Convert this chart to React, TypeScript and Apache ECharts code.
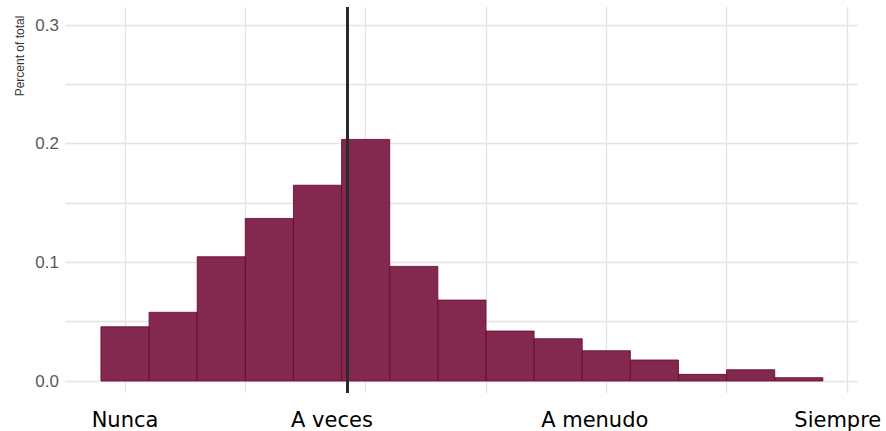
import React, { useEffect, useRef } from "react";
import * as echarts from "echarts";

// Histogram bins (bin centre on the x scale) and share of total
const binCenters = [0, 1, 2, 3, 4, 5, 6, 7, 8, 9, 10, 11, 12, 13, 14];
const binValues = [0.0457, 0.0579, 0.1047, 0.137, 0.165, 0.2036, 0.0966, 0.0682, 0.0421, 0.0356, 0.0255, 0.0177, 0.0056, 0.0095, 0.0028];
const binWidth = 1;

// Mean marker
const meanValue = 4.61;

// Axis ticks / labels
const xLabelValues = [0, 4.3, 9.76, 14.81];
const xLabels = ["Nunca", "A veces", "A menudo", "Siempre"];
const xGridValues = [0, 2.5, 5, 7.5, 10, 12.5, 15];
const yGridValues = [0, 0.05, 0.1, 0.15, 0.2, 0.25, 0.3];
const yLabelValues = [0, 0.1, 0.2, 0.3];
const yTitle = "Percent of total";

export default function App() {
  const ref = useRef<HTMLDivElement>(null);

  useEffect(() => {
    document.body.style.margin = "0";
    if (!ref.current) return;
    const chart = echarts.init(ref.current, undefined, { renderer: "svg" });

    const barData = binCenters.map((c, i) => [c - binWidth / 2, c + binWidth / 2, binValues[i]]);
    const gridColor = "#e4e4e4";

    chart.setOption({
      animation: false,
      backgroundColor: "#ffffff",
      grid: { left: 65, right: 28, top: 7, bottom: 38, containLabel: false },
      xAxis: {
        type: "value",
        min: -1.247,
        max: 15.23,
        axisLine: { show: false },
        axisTick: { show: false },
        splitLine: { show: false },
        axisLabel: {
          customValues: xLabelValues,
          margin: 16,
          color: "#000000",
          fontFamily: "DejaVu Sans",
          fontSize: 21,
          lineHeight: 21,
          formatter: (v: number) => {
            let best = 0;
            xLabelValues.forEach((lv, i) => {
              if (Math.abs(lv - v) < Math.abs(xLabelValues[best] - v)) best = i;
            });
            return xLabels[best];
          },
        },
      },
      yAxis: {
        type: "value",
        min: -0.0101,
        max: 0.3152,
        axisLine: { show: false },
        axisTick: { show: false },
        splitLine: { show: false },
        axisLabel: {
          customValues: yLabelValues,
          margin: 6,
          color: "#5a5a5a",
          fontFamily: "Liberation Sans",
          fontSize: 17,
          formatter: (v: number) => v.toFixed(1),
        },
      },
      graphic: [
        {
          type: "text",
          x: 20,
          y: 56,
          rotation: Math.PI / 2,
          style: {
            text: yTitle,
            fontFamily: "Liberation Sans",
            fontSize: 12,
            fill: "#333333",
            textAlign: "center",
            textVerticalAlign: "middle",
          },
        },
      ],
      series: [
        {
          type: "line",
          data: [[0, 0]],
          symbol: "none",
          lineStyle: { opacity: 0 },
          silent: true,
          z: 0,
          markLine: {
            z: 0,
            silent: true,
            symbol: ["none", "none"],
            label: { show: false },
            lineStyle: { color: gridColor, width: 1.3, type: "solid" },
            data: [
              ...yGridValues.map((v) => ({ yAxis: v })),
              ...xGridValues.map((v) => ({ xAxis: v })),
            ],
          },
        },
        {
          type: "custom",
          z: 4,
          data: barData,
          renderItem: (params: any, api: any) => {
            const lo = api.value(0);
            const hi = api.value(1);
            const v = api.value(2);
            const p1 = api.coord([lo, v]);
            const p2 = api.coord([hi, 0]);
            return {
              type: "rect",
              z2: 10,
              shape: { x: p1[0], y: p1[1], width: p2[0] - p1[0], height: p2[1] - p1[1] },
              style: { fill: "rgba(118,17,59,0.9)", stroke: "rgba(108,10,52,0.85)", lineWidth: 1 },
            };
          },
        },
        {
          type: "line",
          data: [[0, 0]],
          symbol: "none",
          lineStyle: { opacity: 0 },
          silent: true,
          z: 10,
          markLine: {
            z: 10,
            silent: true,
            symbol: ["none", "none"],
            label: { show: false },
            lineStyle: { color: "#2a2a2a", width: 3, type: "solid" },
            data: [{ xAxis: meanValue }],
          },
        },
      ],
    });

    return () => chart.dispose();
  }, []);

  return <div ref={ref} style={{ width: 886, height: 431 }} />;
}
